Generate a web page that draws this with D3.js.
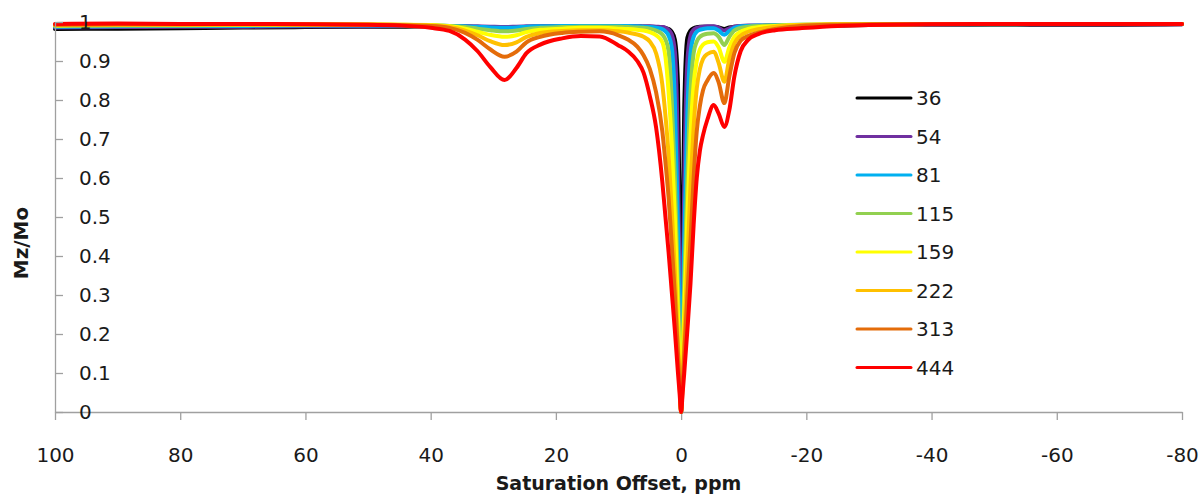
<!DOCTYPE html>
<html>
<head>
<meta charset="utf-8">
<script src="https://cdnjs.cloudflare.com/ajax/libs/d3/7.8.5/d3.min.js"></script>
<style>
  body { margin: 0; background: #fff; }
  svg { display: block; font-family: "DejaVu Sans", sans-serif; }
</style>
</head>
<body>
<svg id="chart" width="1202" height="495"></svg>
<script>
// saturation offsets (ppm), same grid for every curve
var offsets = [100, 90, 80, 70, 60, 50, 45, 40, 37, 34.5, 32.5, 30.5, 28.2, 26.3, 24.7, 22.5, 19, 16, 13, 10,
  8.5, 7, 6, 5, 4, 3, 2.5, 2, 1.5, 1, 0.5, 0.25, 0, -0.25, -0.5, -1, -1.5, -2, -2.5, -3,
  -3.5, -4.2, -5.2, -6, -6.9, -7.7, -8.5, -9.5, -10.7, -12.5, -15, -19, -25, -30, -40, -50, -60, -70, -80];

var labels = ['36', '54', '81', '115', '159', '222', '313', '444'];
var colors = ['#000000', '#7030A0', '#00B0F0', '#92D050', '#FFFF00', '#FFC000', '#E46C0A', '#FF0000'];

var s36 = [0.982, 0.983, 0.984, 0.986, 0.987, 0.988, 0.988, 0.989, 0.989, 0.988, 0.987, 0.986, 0.985, 0.986, 0.987, 0.988, 0.989, 0.989, 0.989, 0.989,
  0.989, 0.989, 0.988, 0.988, 0.987, 0.986, 0.985, 0.982, 0.975, 0.955, 0.84, 0.52, 0, 0.45, 0.78, 0.96, 0.978, 0.984, 0.987, 0.988,
  0.988, 0.988, 0.988, 0.986, 0.982, 0.986, 0.988, 0.989, 0.99, 0.99, 0.99, 0.991, 0.991, 0.992, 0.992, 0.993, 0.993, 0.993, 0.994];
var s54 = [0.986, 0.987, 0.988, 0.988, 0.989, 0.989, 0.99, 0.99, 0.99, 0.99, 0.989, 0.988, 0.987, 0.988, 0.989, 0.99, 0.99, 0.99, 0.99, 0.99,
  0.99, 0.99, 0.989, 0.989, 0.988, 0.987, 0.985, 0.98, 0.968, 0.925, 0.64, 0.33, 0, 0.3, 0.58, 0.9, 0.965, 0.98, 0.985, 0.987,
  0.988, 0.989, 0.989, 0.985, 0.978, 0.984, 0.988, 0.99, 0.991, 0.991, 0.992, 0.992, 0.993, 0.993, 0.993, 0.994, 0.994, 0.994, 0.994];
var s81 = [0.988, 0.989, 0.99, 0.99, 0.991, 0.991, 0.991, 0.991, 0.99, 0.989, 0.988, 0.986, 0.985, 0.986, 0.988, 0.989, 0.99, 0.99, 0.99, 0.99,
  0.99, 0.989, 0.988, 0.987, 0.985, 0.982, 0.976, 0.965, 0.935, 0.8, 0.47, 0.24, 0, 0.22, 0.44, 0.77, 0.92, 0.962, 0.975, 0.98,
  0.982, 0.984, 0.984, 0.978, 0.967, 0.977, 0.985, 0.989, 0.99, 0.991, 0.992, 0.993, 0.993, 0.994, 0.994, 0.994, 0.995, 0.995, 0.995];
var s115 = [0.99, 0.991, 0.991, 0.992, 0.992, 0.992, 0.992, 0.991, 0.99, 0.987, 0.983, 0.979, 0.976, 0.978, 0.982, 0.985, 0.987, 0.988, 0.988, 0.988,
  0.987, 0.986, 0.985, 0.983, 0.978, 0.968, 0.955, 0.925, 0.8, 0.6, 0.32, 0.16, 0, 0.16, 0.33, 0.6, 0.82, 0.92, 0.95, 0.962,
  0.967, 0.97, 0.971, 0.962, 0.941, 0.962, 0.978, 0.985, 0.988, 0.99, 0.991, 0.992, 0.993, 0.993, 0.994, 0.994, 0.995, 0.995, 0.995];
var s159 = [0.991, 0.992, 0.992, 0.993, 0.993, 0.993, 0.993, 0.992, 0.989, 0.983, 0.975, 0.967, 0.962, 0.966, 0.974, 0.98, 0.983, 0.985, 0.985, 0.983,
  0.982, 0.98, 0.978, 0.974, 0.966, 0.948, 0.91, 0.82, 0.69, 0.5, 0.25, 0.12, 0, 0.13, 0.26, 0.5, 0.71, 0.84, 0.9, 0.93,
  0.942, 0.948, 0.95, 0.935, 0.898, 0.935, 0.962, 0.975, 0.982, 0.987, 0.99, 0.993, 0.994, 0.994, 0.995, 0.995, 0.995, 0.995, 0.995];
var s222 = [0.992, 0.993, 0.993, 0.994, 0.994, 0.994, 0.993, 0.991, 0.987, 0.978, 0.966, 0.951, 0.941, 0.948, 0.962, 0.972, 0.977, 0.979, 0.979, 0.976,
  0.973, 0.968, 0.962, 0.95, 0.92, 0.84, 0.76, 0.66, 0.52, 0.36, 0.18, 0.09, 0, 0.09, 0.19, 0.38, 0.58, 0.73, 0.83, 0.88,
  0.905, 0.918, 0.924, 0.895, 0.847, 0.905, 0.945, 0.965, 0.975, 0.982, 0.988, 0.992, 0.994, 0.994, 0.995, 0.995, 0.995, 0.995, 0.995];
var s313 = [0.993, 0.994, 0.994, 0.994, 0.994, 0.993, 0.992, 0.99, 0.985, 0.972, 0.954, 0.93, 0.911, 0.924, 0.948, 0.962, 0.972, 0.975, 0.976, 0.966,
  0.955, 0.937, 0.915, 0.88, 0.82, 0.72, 0.64, 0.55, 0.43, 0.3, 0.15, 0.07, 0, 0.07, 0.15, 0.3, 0.44, 0.6, 0.72, 0.785,
  0.825, 0.85, 0.869, 0.845, 0.792, 0.86, 0.92, 0.952, 0.964, 0.973, 0.982, 0.99, 0.993, 0.994, 0.995, 0.995, 0.995, 0.995, 0.995];
var s444 = [0.995, 0.996, 0.995, 0.995, 0.994, 0.993, 0.991, 0.985, 0.977, 0.955, 0.925, 0.885, 0.851, 0.882, 0.92, 0.942, 0.958, 0.964, 0.963, 0.94,
  0.925, 0.9, 0.87, 0.81, 0.73, 0.59, 0.5, 0.41, 0.31, 0.21, 0.1, 0.05, 0, 0.05, 0.1, 0.21, 0.33, 0.48, 0.6, 0.67,
  0.71, 0.75, 0.787, 0.765, 0.731, 0.774, 0.86, 0.925, 0.954, 0.97, 0.979, 0.984, 0.99, 0.992, 0.994, 0.995, 0.995, 0.995, 0.995];

var seriesValues = [s36, s54, s81, s115, s159, s222, s313, s444];

var xTicks = [100, 80, 60, 40, 20, 0, -20, -40, -60, -80];
var yTicks = [0, 0.1, 0.2, 0.3, 0.4, 0.5, 0.6, 0.7, 0.8, 0.9, 1];

// plot box (window.top is reserved, hence the prefix)
var plotLeft = 55, plotRight = 1182, plotTop = 22, plotBottom = 412;

var svg = d3.select('#chart');

var x = d3.scaleLinear().domain([100, -80]).range([plotLeft, plotRight]);
var y = d3.scaleLinear().domain([0, 1]).range([plotBottom, plotTop]);

// axes first, curves go over them
var xAxis = svg.append('g')
  .attr('transform', 'translate(0,' + plotBottom + ')')
  .call(d3.axisBottom(x).tickValues(xTicks).tickFormat(function (d) { return String(d); })
    .tickSize(8).tickSizeOuter(0).tickPadding(28));

var yAxis = svg.append('g')
  .attr('transform', 'translate(' + plotLeft + ',0)')
  .call(d3.axisRight(y).tickValues(yTicks).tickFormat(function (d) { return String(d); })
    .tickSize(8).tickSizeOuter(0));

[xAxis, yAxis].forEach(function (g) {
  g.selectAll('path, line').attr('stroke', '#a0a0a0').attr('stroke-width', 1.3);
  g.selectAll('text').attr('fill', '#1a1a1a').style('font-size', '20px')
    .style('font-family', '"DejaVu Sans", sans-serif');
});
yAxis.selectAll('text').attr('x', 24);

var line = d3.line()
  .x(function (d) { return x(d[0]); })
  .y(function (d) { return y(d[1]); })
  .curve(d3.curveMonotoneX);

var series = seriesValues.map(function (vals, i) {
  return { label: labels[i], color: colors[i], points: offsets.map(function (o, j) { return [o, vals[j]]; }) };
});

svg.append('g').selectAll('path').data(series).enter()
  .append('path')
  .attr('d', function (d) { return line(d.points); })
  .attr('fill', 'none')
  .attr('stroke', function (d) { return d.color; })
  .attr('stroke-width', 4)
  .attr('stroke-linejoin', 'round')
  .attr('stroke-linecap', 'round');

// y tick labels sit on top of the curves in the original
yAxis.raise();

// legend
var legend = svg.append('g').attr('transform', 'translate(857,98)');
var item = legend.selectAll('g').data(series).enter()
  .append('g')
  .attr('transform', function (d, i) { return 'translate(0,' + (i * 38.5) + ')'; });
item.append('line')
  .attr('x1', 0).attr('x2', 54).attr('y1', 0).attr('y2', 0)
  .attr('stroke', function (d) { return d.color; })
  .attr('stroke-width', 3)
  .attr('stroke-linecap', 'round');
item.append('text')
  .attr('x', 59).attr('y', 7)
  .attr('fill', '#1a1a1a')
  .style('font-size', '20px')
  .text(function (d) { return d.label; });

// axis titles
svg.append('text')
  .attr('x', (plotLeft + plotRight) / 2).attr('y', 490)
  .attr('text-anchor', 'middle')
  .style('font-size', '19px').style('font-weight', 'bold')
  .attr('fill', '#1a1a1a')
  .text('Saturation Offset, ppm');

svg.append('text')
  .attr('transform', 'translate(28,243) rotate(-90)')
  .attr('text-anchor', 'middle')
  .style('font-size', '20px').style('font-weight', 'bold')
  .attr('fill', '#1a1a1a')
  .text('Mz/Mo');
</script>
</body>
</html>
